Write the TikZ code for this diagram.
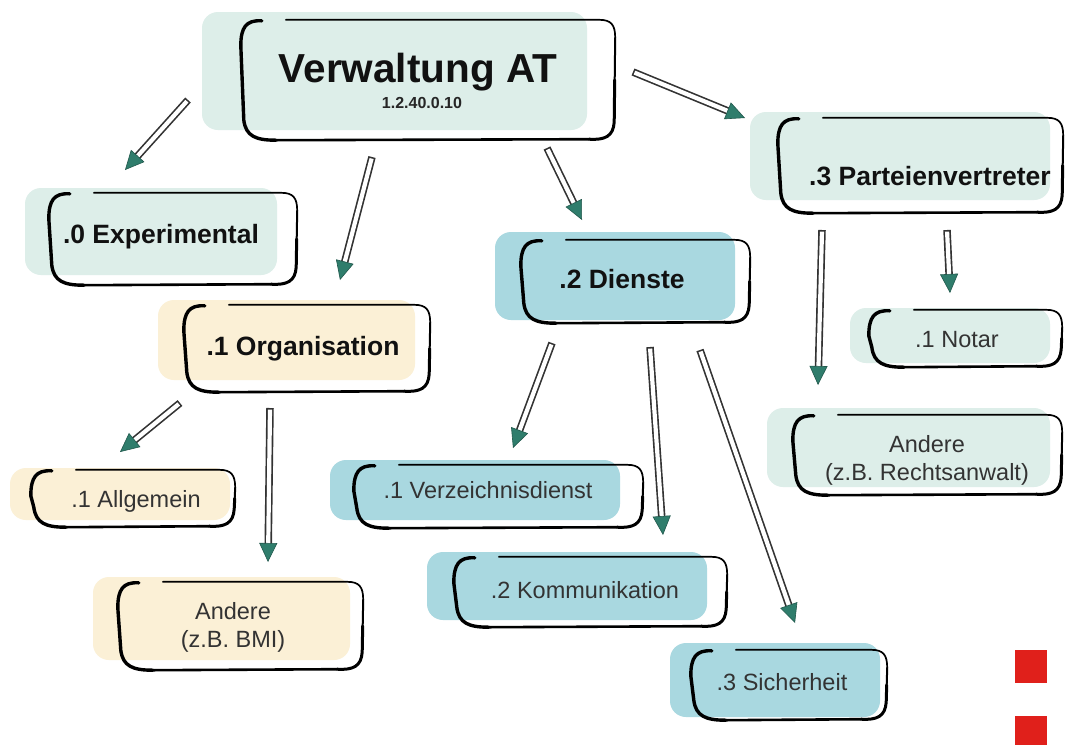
\documentclass[tikz,border=0pt]{standalone}
\usepackage{fontspec}
\setmainfont{Liberation Sans}
\usetikzlibrary{calc,fit,arrows.meta}
\definecolor{tealL}{HTML}{DDEEE9}
\definecolor{yelL}{HTML}{FBF0D6}
\definecolor{blueM}{HTML}{A9D8E0}
\definecolor{arrT}{HTML}{2F7D6C}
\definecolor{redsq}{HTML}{E0201B}
\definecolor{txtreg}{HTML}{333333}
\definecolor{txtbold}{HTML}{111111}
\newcommand{\skbox}[1]{%
\draw[line width=3.4pt, line cap=round] ($(#1.north west)+(22,1)$) .. controls ($(#1.north west)+(6,0)$) and ($(#1.north west)+(1,8)$) .. ($(#1.north west)+(1,26)$) -- ($(#1.south west)+(4,-20)$) .. controls ($(#1.south west)+(6,-4)$) and ($(#1.south west)+(16,0)$) .. ($(#1.south west)+(36,0)$);
\draw[line width=2.6pt, line cap=round] ($(#1.south west)+(36,0)$) -- ($(#1.south east)+(-26,-1)$);
\draw[line width=1.7pt, line cap=round] ($(#1.north west)+(46,0)$) -- ($(#1.north east)+(-16,0)$) .. controls ($(#1.north east)+(-4,0)$) and ($(#1.north east)+(0,5)$) .. ($(#1.north east)+(0,18)$);
\draw[line width=2.0pt, line cap=round] ($(#1.north east)+(0,18)$) -- ($(#1.east)+(-0.5,0)$);
\draw[line width=3.0pt, line cap=round] ($(#1.east)+(-0.5,0)$) -- ($(#1.south east)+(-1,-18)$) .. controls ($(#1.south east)+(-2,-4)$) and ($(#1.south east)+(-10,0)$) .. ($(#1.south east)+(-26,-1)$);
}
\newcommand{\conn}[2]{%
\draw[shaftout] (#1) -- (#2);
\draw[shaftin] (#1) -- (#2);
\draw[tipst] ($(#2)!19pt!(#1)$) -- (#2);
}
\tikzset{
  bg/.style={inner sep=0pt, rounded corners=16pt, draw=none},
  frame/.style={inner sep=0pt, draw=none},
  bl/.style={font=\fontsize{26.5}{30}\selectfont\bfseries, text=txtbold, inner sep=0pt, anchor=base},
  rl/.style={font=\fontsize{23.5}{28}\selectfont, text=txtreg, inner sep=0pt, anchor=base},
  rl2/.style={font=\fontsize{23.5}{28}\selectfont, text=txtreg, inner sep=0pt, align=center},
  shaftout/.style={line width=7.5pt, draw=black!80, shorten >=13pt},
  shaftin/.style={line width=4.2pt, draw=white, shorten >=12pt, shorten <=1.6pt},
  tipst/.style={draw=arrT!70!black, line width=0.6pt, -{Triangle[length=19pt,width=18pt,fill=arrT]}}
}
\begin{document}
\begin{tikzpicture}[x=1pt,y=-1pt]
\useasboundingbox (0,0) rectangle (1065,745);
\fill[white] (0,0) rectangle (1065,745);
% backgrounds
\node[bg, fill=tealL, fit={(202,12) (587,130)}] (topbg) {};
\node[bg, fill=tealL, fit={(25,188) (277,275)}] (expbg) {};
\node[bg, fill=tealL, fit={(750,112) (1050,200)}] (partbg) {};
\node[bg, fill=blueM, fit={(495,232) (735,320)}] (dienbg) {};
\node[bg, fill=yelL, fit={(158,300) (415,380)}] (orgbg) {};
\node[bg, fill=yelL, fit={(10,468) (230,520)}] (allgbg) {};
\node[bg, fill=yelL, fit={(93,577) (350,660)}] (bmibg) {};
\node[bg, fill=blueM, fit={(330,460) (620,520)}] (verzbg) {};
\node[bg, fill=blueM, fit={(427,552) (707,620)}] (kommbg) {};
\node[bg, fill=blueM, fit={(670,643) (880,717)}] (sichbg) {};
\node[bg, fill=tealL, fit={(850,308) (1050,363)}] (notarbg) {};
\node[bg, fill=tealL, fit={(767,408) (1050,487)}] (rabg) {};
% frames
\node[frame, fit={(240,20) (615,140)}] (top) {};
\node[frame, fit={(48,193) (297,285)}] (exp) {};
\node[frame, fit={(777,118) (1063,213)}] (part) {};
\node[frame, fit={(520,240) (750,323)}] (dien) {};
\node[frame, fit={(183,305) (430,392)}] (org) {};
\node[frame, fit={(30,470) (235,527)}] (allg) {};
\node[frame, fit={(117,582) (363,670)}] (bmi) {};
\node[frame, fit={(353,465) (643,528)}] (verz) {};
\node[frame, fit={(453,557) (727,627)}] (komm) {};
\node[frame, fit={(690,650) (887,720)}] (sich) {};
\node[frame, fit={(868,310) (1062,367)}] (notar) {};
\node[frame, fit={(792,415) (1062,495)}] (ra) {};
\foreach \n in {top,exp,part,dien,org,allg,bmi,verz,komm,sich,notar,ra}{\skbox{\n}}
% labels
\node[bl, font=\fontsize{40.5}{44}\selectfont\bfseries] (toplbl) at (418,82) {Verwaltung AT};
\node[bl, font=\fontsize{16}{18}\selectfont\bfseries, text=black!85] (topnum) at (422,108) {1.2.40.0.10};
\node[bl] (explbl) at (161,243) {.0 Experimental};
\node[bl] (partlbl) at (930,185) {.3 Parteienvertreter};
\node[bl] (dienlbl) at (622,288) {.2 Dienste};
\node[bl] (orglbl) at (303,355) {.1 Organisation};
\node[rl] (allglbl) at (136,507) {.1 Allgemein};
\node[rl2] (bmilbl) at (233,627) {Andere\\(z.B. BMI)};
\node[rl] (verzlbl) at (488,498) {.1 Verzeichnisdienst};
\node[rl] (kommlbl) at (585,598) {.2 Kommunikation};
\node[rl] (sichlbl) at (782,690) {.3 Sicherheit};
\node[rl] (notarlbl) at (957,347) {.1 Notar};
\node[rl2] (ralbl) at (927,460) {Andere\\(z.B. Rechtsanwalt)};
% connectors
\coordinate (s1) at (188,100); \coordinate (e1) at (125,170);
\coordinate (s2) at (372,157); \coordinate (e2) at (340,280);
\coordinate (s3) at (547,148); \coordinate (e3) at (582,220);
\coordinate (s4) at (633,72);  \coordinate (e4) at (745,118);
\coordinate (s5) at (180,403); \coordinate (e5) at (120,452);
\coordinate (s6) at (270,408); \coordinate (e6) at (268,562);
\coordinate (s7) at (552,343); \coordinate (e7) at (513,448);
\coordinate (s8) at (650,347); \coordinate (e8) at (663,535);
\coordinate (s9) at (700,350); \coordinate (e9) at (795,623);
\coordinate (s10) at (822,230); \coordinate (e10) at (818,385);
\coordinate (s11) at (947,230); \coordinate (e11) at (950,293);
\foreach \i in {1,...,11}{\conn{s\i}{e\i}}
% red squares
\fill[redsq] (1015,650) rectangle (1047,683);
\fill[redsq] (1015,716) rectangle (1047,745);
\end{tikzpicture}
\end{document}
